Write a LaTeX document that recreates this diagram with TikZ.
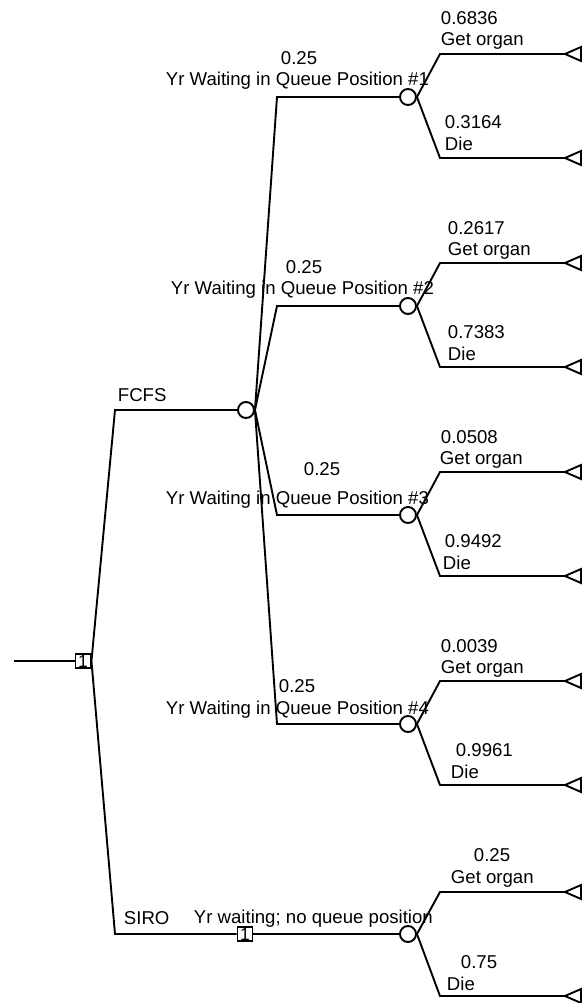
\documentclass[tikz,border=0pt]{standalone}
\usepackage{fontspec}
\setmainfont{Liberation Sans}
\begin{document}
\begin{tikzpicture}[x=1pt,y=-1pt, line width=1.9pt,
  every node/.style={font=\fontsize{18.6}{20}\selectfont, inner sep=0pt},
  lbl/.style={anchor=base west},
  dec/.style={draw, rectangle, minimum width=15pt, minimum height=14pt, font=\fontsize{17.5}{17.5}\selectfont},
  chance/.style={draw, circle, minimum size=16pt},
  term/.style={draw}
]
\useasboundingbox (0,0) rectangle (585,1003);

% root decision
\coordinate (r0) at (14,661);
\node[dec] (d0) at (83,661) {1};
\draw (r0) -- (d0.west);

% FCFS / SIRO
\coordinate (f) at (115,410);
\coordinate (s) at (115,934);
\node[chance] (c0) at (246,410) {};
\node[dec] (d1) at (245,934) {1};
\node[chance] (c5) at (408,934) {};
\draw (d0.east) -- (f) -- (c0.west);
\draw (d0.east) -- (s) -- (d1.west);
\draw (d1.east) -- (c5.west);
\node[lbl] (lf) at (117,401) {FCFS};
\node[lbl] (ls) at (123,924) {SIRO};
\node[lbl] (lsw) at (193,923) {Yr waiting; no queue position};

% queue positions
\foreach \i/\y in {1/97,2/306,3/515,4/724} {
  \coordinate (q\i) at (277,\y);
  \node[chance] (c\i) at (408,\y) {};
  \draw (c0.east) -- (q\i) -- (c\i.west);
}
\node[lbl] (lq1) at (165,86) {Yr Waiting in Queue Position \#1};
\node[lbl] (pq1) at (280,65) {0.25};
\node[lbl] (lq2) at (170,294) {Yr Waiting in Queue Position \#2};
\node[lbl] (pq2) at (285,273) {0.25};
\node[lbl] (lq3) at (165,504) {Yr Waiting in Queue Position \#3};
\node[lbl] (pq3) at (303,475) {0.25};
\node[lbl] (lq4) at (165,714) {Yr Waiting in Queue Position \#4};
\node[lbl] (pq4) at (278,692) {0.25};

% outcome branches
\foreach \i/\gy/\hy in {1/54/158,2/263/367,3/472/576,4/681/785,5/892/996} {
  \coordinate (g\i) at (440,\gy);
  \coordinate (gt\i) at (565,\gy);
  \coordinate (h\i) at (440,\hy);
  \coordinate (ht\i) at (565,\hy);
  \draw (c\i.east) -- (g\i) -- (gt\i);
  \draw (c\i.east) -- (h\i) -- (ht\i);
  \draw[term] (gt\i) -- ++(16,-7) -- ++(0,14) -- cycle;
  \draw[term] (ht\i) -- ++(16,-7) -- ++(0,14) -- cycle;
}

% outcome labels
\node[lbl] (pg1) at (440,25) {0.6836};
\node[lbl] (lg1) at (440,46) {Get organ};
\node[lbl] (ph1) at (444,129) {0.3164};
\node[lbl] (lh1) at (444,151) {Die};

\node[lbl] (pg2) at (447,234) {0.2617};
\node[lbl] (lg2) at (447,255) {Get organ};
\node[lbl] (ph2) at (447,338) {0.7383};
\node[lbl] (lh2) at (447,360) {Die};

\node[lbl] (pg3) at (440,443) {0.0508};
\node[lbl] (lg3) at (439,464) {Get organ};
\node[lbl] (ph3) at (444,547) {0.9492};
\node[lbl] (lh3) at (442,569) {Die};

\node[lbl] (pg4) at (440,652) {0.0039};
\node[lbl] (lg4) at (440,673) {Get organ};
\node[lbl] (ph4) at (455,756) {0.9961};
\node[lbl] (lh4) at (450,778) {Die};

\node[lbl] (pg5) at (473,861) {0.25};
\node[lbl] (lg5) at (450,883) {Get organ};
\node[lbl] (ph5) at (460,968) {0.75};
\node[lbl] (lh5) at (446,990) {Die};
\end{tikzpicture}
\end{document}
